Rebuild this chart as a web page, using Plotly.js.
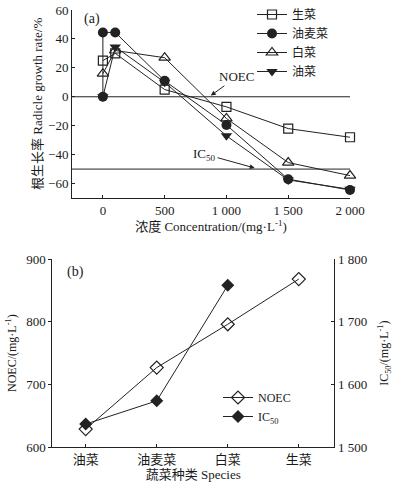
<!DOCTYPE html>
<html>
<head>
<meta charset="utf-8">
<script src="https://cdn.plot.ly/plotly-3.0.1.min.js"></script>
<style>html,body{margin:0;padding:0;background:#fff;}#chart{width:399px;height:487px;}</style>
</head>
<body>
<div id="chart"></div>
<script>
// ---------- Panel (a) data ----------
const concLettuce = [0, 100, 500, 1000, 1500, 2000];
const rateLettuce = [25, 30, 5, -7, -22, -28];          // 生菜
const concYoumai = [0, 0, 100, 500, 1000, 1500, 2000];
const rateYoumai = [0, 44.5, 44.5, 11, -19.5, -57, -64.5]; // 油麦菜
const concCabbage = [0, 100, 500, 1000, 1500, 2000];
const rateCabbage = [16, 32, 27, -15, -45.5, -54.5];    // 白菜
const concRape = [0, 100, 500, 1000, 1500, 2000];
const rateRape = [0, 34.5, 10, -27, -57.5, -64];        // 油菜
const namesA = ['生菜', '油麦菜', '白菜', '油菜'];
const noecLevel = [0];
const ic50Level = [-50];
const xTicksA = [0, 500, 1000, 1500, 2000];
const yTicksA = [-60, -40, -20, 0, 20, 40, 60];

// ---------- Panel (b) data ----------
const species = ['油菜', '油麦菜', '白菜', '生菜'];
const noecVals = [629, 727, 796, 868];
const ic50Species = ['油菜', '油麦菜', '白菜'];
const ic50Vals = [1537, 1574, 1758];

const FONT = 'Liberation Serif, Times New Roman, Noto Sans CJK SC, serif';
const INK = '#1a1a1a';
const LINE = '#222';
const W = 399, H = 487;
const px = v => v / W;
const py = v => 1 - v / H;

const baseLine = {color: LINE, width: 1};
const traces = [
  {x: concLettuce, y: rateLettuce, name: namesA[0], mode: 'lines+markers', line: baseLine,
   marker: {symbol: 'square-open', size: 9, color: LINE, line: {width: 1.2}}, xaxis: 'x', yaxis: 'y', cliponaxis: false},
  {x: concYoumai, y: rateYoumai, name: namesA[1], mode: 'lines+markers', line: baseLine,
   marker: {symbol: 'circle', size: 10, color: LINE}, xaxis: 'x', yaxis: 'y', cliponaxis: false},
  {x: concCabbage, y: rateCabbage, name: namesA[2], mode: 'lines+markers', line: baseLine,
   marker: {symbol: 'triangle-up-open', size: 10, color: LINE, line: {width: 1.2}}, xaxis: 'x', yaxis: 'y', cliponaxis: false},
  {x: concRape, y: rateRape, name: namesA[3], mode: 'lines+markers', line: baseLine,
   marker: {symbol: 'triangle-down', size: 10, color: LINE}, xaxis: 'x', yaxis: 'y', cliponaxis: false},
  {x: species, y: noecVals, name: 'NOEC', mode: 'lines+markers', line: baseLine,
   marker: {symbol: 'diamond-open', size: 10, color: LINE, line: {width: 1.2}}, xaxis: 'x2', yaxis: 'y2', legend: 'legend2', cliponaxis: false},
  {x: ic50Species, y: ic50Vals, name: 'IC<sub>50</sub>', mode: 'lines+markers', line: baseLine,
   marker: {symbol: 'diamond', size: 10, color: LINE}, xaxis: 'x2', yaxis: 'y3', legend: 'legend2', cliponaxis: false}
];

const tickFont = {family: FONT, size: 13, color: INK};
const titleFont = {family: FONT, size: 13, color: INK};

const layout = {
  width: W, height: H,
  margin: {l: 0, r: 0, t: 0, b: 0},
  paper_bgcolor: '#fff', plot_bgcolor: '#fff',
  font: {family: FONT, color: INK},
  separators: '. ',
  showlegend: true,
  xaxis: {
    domain: [px(72), px(350)], anchor: 'y', range: [-250, 2000],
    tickvals: xTicksA, separatethousands: true, ticks: 'inside', ticklen: 3, tickcolor: LINE,
    showline: true, linecolor: LINE, linewidth: 1, showgrid: false, zeroline: false,
    tickfont: tickFont,
    title: {text: '浓度 Concentration/(mg·L<sup>-1</sup>)', font: titleFont, standoff: 5}
  },
  yaxis: {
    domain: [py(198), py(10)], anchor: 'x', range: [-70, 60],
    tickvals: yTicksA, ticks: 'inside', ticklen: 3, tickcolor: LINE,
    showline: true, linecolor: LINE, linewidth: 1, showgrid: false, zeroline: false,
    tickfont: tickFont
  },
  xaxis2: {
    domain: [px(52.3), px(334.3)], anchor: 'y2', type: 'category',
    categoryarray: species, range: [-0.47, 3.5],
    ticks: 'inside', ticklen: 3, tickcolor: LINE,
    showline: true, linecolor: LINE, linewidth: 1, showgrid: false, zeroline: false,
    tickfont: tickFont,
    title: {text: '蔬菜种类 Species', font: titleFont, standoff: 2}
  },
  yaxis2: {
    domain: [py(447.3), py(259)], anchor: 'x2', range: [600, 900],
    tickvals: [600, 700, 800, 900], ticks: 'outside', ticklen: 3, tickcolor: LINE,
    showline: true, linecolor: LINE, linewidth: 1, showgrid: false, zeroline: false,
    tickfont: tickFont,
    title: {text: 'NOEC/(mg·L<sup>-1</sup>)', font: {family: FONT, size: 12, color: INK}, standoff: 6}
  },
  yaxis3: {
    overlaying: 'y2', side: 'right', anchor: 'x2', range: [1500, 1800],
    tickvals: [1500, 1600, 1700, 1800], separatethousands: true, ticks: 'inside', ticklen: 3, tickcolor: LINE,
    showline: true, linecolor: LINE, linewidth: 1, showgrid: false, zeroline: false,
    tickfont: tickFont,
    title: {text: 'IC<sub>50</sub>/(mg·L<sup>-1</sup>)', font: {family: FONT, size: 12, color: INK}, standoff: 13}
  },
  legend: {
    x: px(252), y: py(0), xanchor: 'left', yanchor: 'top',
    bgcolor: 'rgba(0,0,0,0)', borderwidth: 0, tracegroupgap: 0,
    font: {family: FONT, size: 12, color: INK}, itemwidth: 30
  },
  legend2: {
    x: px(218), y: py(383), xanchor: 'left', yanchor: 'top',
    bgcolor: 'rgba(0,0,0,0)', borderwidth: 0,
    font: {family: FONT, size: 12, color: INK}, itemwidth: 30
  },
  shapes: [
    {type: 'line', xref: 'x', yref: 'y', x0: -250, x1: 2000, y0: noecLevel[0], y1: noecLevel[0], line: {color: LINE, width: 1}},
    {type: 'line', xref: 'x', yref: 'y', x0: -250, x1: 2000, y0: ic50Level[0], y1: ic50Level[0], line: {color: LINE, width: 1}}
  ],
  annotations: [
    {text: '根生长率 Radicle growth rate/%', xref: 'paper', yref: 'paper', x: px(37), y: py(104),
     xanchor: 'center', yanchor: 'middle', textangle: -90, showarrow: false, font: titleFont},
    {text: '(a)', xref: 'paper', yref: 'paper', x: px(92), y: py(19), xanchor: 'center', yanchor: 'middle',
     showarrow: false, font: {family: FONT, size: 14, color: INK}},
    {text: '(b)', xref: 'paper', yref: 'paper', x: px(75), y: py(272), xanchor: 'center', yanchor: 'middle',
     showarrow: false, font: {family: FONT, size: 14, color: INK}},
    {text: 'NOEC', xref: 'x', yref: 'y', x: 860, y: noecLevel[0], ax: 236.7 - 209, ay: -20,
     xanchor: 'center', showarrow: true, arrowhead: 2, arrowsize: 1, arrowwidth: 1, arrowcolor: LINE,
     font: {family: FONT, size: 13, color: INK}, standoff: 2},
    {text: 'IC<sub>50</sub>', xref: 'x', yref: 'y', x: 1260, y: ic50Level[0], ax: -54, ay: -15,
     showarrow: true, arrowhead: 2, arrowsize: 1, arrowwidth: 1, arrowcolor: LINE,
     font: {family: FONT, size: 13, color: INK}, standoff: 4}
  ]
};

Plotly.newPlot('chart', traces, layout, {displayModeBar: false, staticPlot: true});
</script>
</body>
</html>
